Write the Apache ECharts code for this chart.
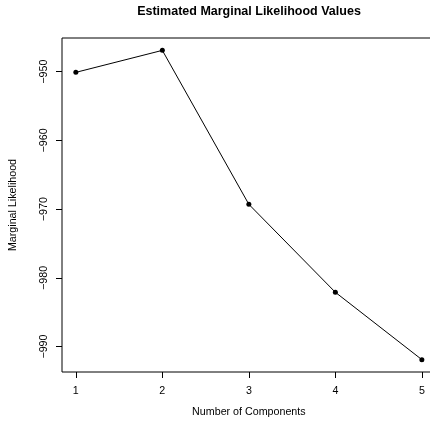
<!DOCTYPE html>
<html><head><meta charset="utf-8">
<script src="https://cdn.jsdelivr.net/npm/echarts@6/dist/echarts.min.js"></script>
<style>html,body{margin:0;padding:0;background:#fff}#c{width:430px;height:426px}</style>
</head><body><div id="c"></div>
<script>
const components = [1, 2, 3, 4, 5];
const marginalLikelihood = [-950.1, -946.9, -969.3, -982.1, -991.9];
const xTicks = [1, 2, 3, 4, 5];
const yTicks = [-990, -980, -970, -960, -950];

const font = '"Liberation Sans", Arial, sans-serif';
const chart = echarts.init(document.getElementById('c'), null, {renderer: 'canvas'});
const xr = 4 * 0.04, yr = (Math.max(...marginalLikelihood) - Math.min(...marginalLikelihood)) * 0.04;
chart.setOption({
  animation: false,
  backgroundColor: '#fff',
  title: {
    text: 'Estimated Marginal Likelihood Values',
    left: 249, top: 5, textAlign: 'center', padding: 0,
    textStyle: {fontFamily: font, fontSize: 12.5, fontWeight: 'bold', color: '#000'}
  },
  grid: {left: 62, top: 38, width: 373.7, height: 334, show: true, borderColor: '#000', borderWidth: 1,
    outerBoundsMode: 'none', containLabel: false},
  xAxis: {
    type: 'value', min: 1 - xr, max: 5 + xr,
    name: 'Number of Components', nameLocation: 'middle', nameGap: 35,
    nameTextStyle: {fontFamily: font, fontSize: 10.7, color: '#000'},
    axisLine: {show: false}, splitLine: {show: false},
    axisTick: {show: true, inside: false, length: 6, lineStyle: {color: '#000'}, customValues: xTicks},
    axisLabel: {fontFamily: font, fontSize: 10.7, color: '#000', margin: 14, customValues: xTicks}
  },
  yAxis: {
    type: 'value', min: Math.min(...marginalLikelihood) - yr, max: Math.max(...marginalLikelihood) + yr,
    name: 'Marginal Likelihood', nameLocation: 'middle', nameGap: 43, nameRotate: 90,
    nameTextStyle: {fontFamily: font, fontSize: 10.7, color: '#000'},
    axisLine: {show: false}, splitLine: {show: false},
    axisTick: {show: true, inside: false, length: 6, lineStyle: {color: '#000'}, customValues: yTicks},
    axisLabel: {fontFamily: font, fontSize: 10.7, color: '#000', margin: 12, rotate: 90,
      customValues: yTicks, formatter: v => String(v).replace('-', '\u2212')}
  },
  series: [{
    type: 'line',
    data: components.map((c, i) => [c, marginalLikelihood[i]]),
    lineStyle: {color: '#000', width: 1},
    itemStyle: {color: '#000'},
    symbol: 'circle', symbolSize: 5, showSymbol: true
  }]
});
</script></body></html>
